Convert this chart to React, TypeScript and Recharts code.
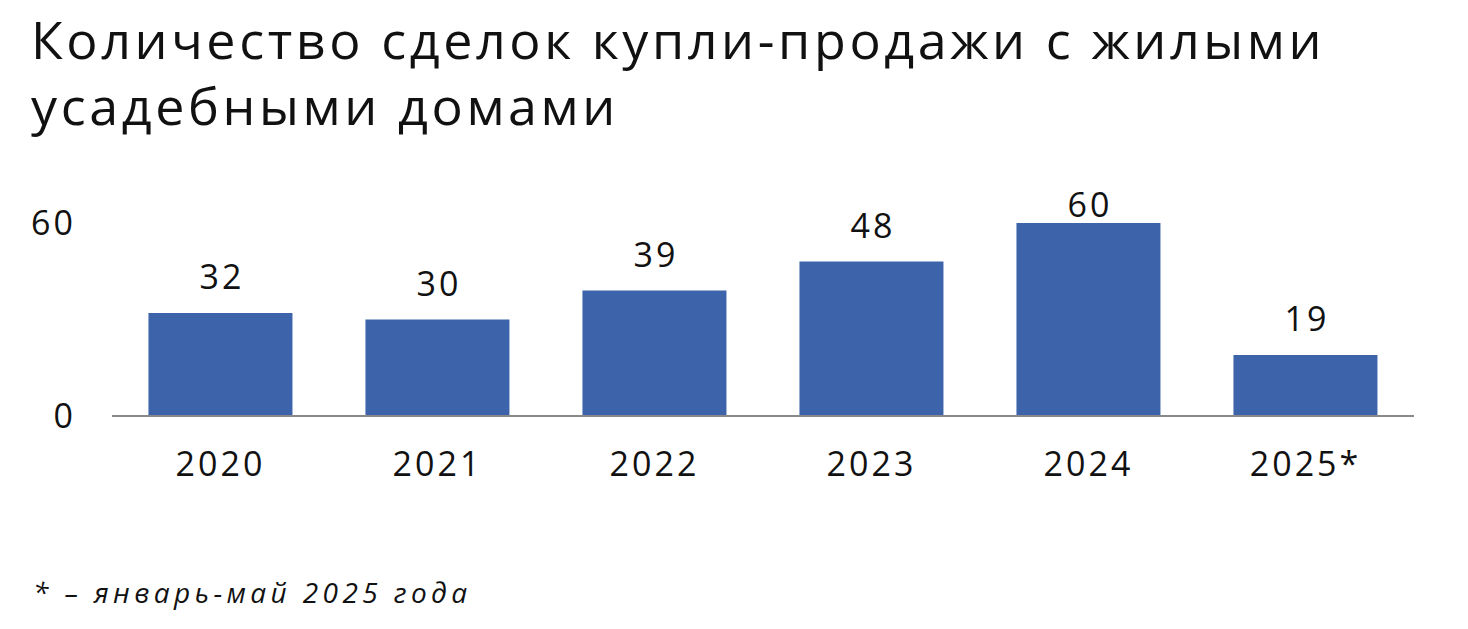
import React from 'react';
import { BarChart, Bar, XAxis, YAxis, LabelList } from 'recharts';

const categories = ['2020', '2021', '2022', '2023', '2024', '2025*'];
const dealCounts = [32, 30, 39, 48, 60, 19];
const yTicks = [0, 60];
const titleLines = ['Количество сделок купли-продажи с жилыми', 'усадебными домами'];
const footnote = '* – январь-май 2025 года';

const data = categories.map((c, i) => ({ year: c, value: dealCounts[i] }));

const FONT = '"Open Sans", sans-serif';

const TopLabel = (props: any) => {
  const { x, y, width, value } = props;
  const baseline = Math.max(y - 24, 217);
  return (
    <text x={x + width / 2 + 1.5} y={baseline} textAnchor="middle" fontFamily={FONT} fontSize={34} letterSpacing={3} fill="#111">
      {value}
    </text>
  );
};

export default function App() {
  return (
    <div style={{ position: 'absolute', left: 0, top: 0, width: 1468, height: 629, background: '#fff' }}>
      <div style={{ position: 'absolute', left: 31, top: 6, fontFamily: FONT, fontSize: 52, lineHeight: '66px', letterSpacing: 3.6, color: '#111', whiteSpace: 'nowrap' }}>
        {titleLines.map((l) => (
          <div key={l}>{l}</div>
        ))}
      </div>
      <div style={{ position: 'absolute', left: 33, top: 573, fontFamily: FONT, fontStyle: 'italic', fontSize: 28, letterSpacing: 4.4, color: '#111', whiteSpace: 'nowrap' }}>
        {footnote}
      </div>
      <div style={{ position: 'absolute', left: 0, top: 0 }}>
        <BarChart width={1468} height={629} data={data} margin={{ top: 223, right: 54, bottom: 183, left: 0 }} barCategoryGap="16.8%">
          <XAxis
            dataKey="year"
            height={30}
            axisLine={{ stroke: '#898989', strokeWidth: 2 }}
            tickLine={false}
            tickSize={0}
            tickMargin={36}
            tick={{ fontFamily: FONT, fontSize: 34, fill: '#111', letterSpacing: 3 }}
            interval={0}
          />
          <YAxis
            width={112}
            domain={[0, 60]}
            ticks={yTicks}
            axisLine={false}
            tickLine={false}
            tickSize={0}
            tickMargin={36}
            tick={{ fontFamily: FONT, fontSize: 34, fill: '#111', letterSpacing: 3 }}
          />
          <Bar dataKey="value" fill="#3D64AB" isAnimationActive={false}>
            <LabelList dataKey="value" content={TopLabel} />
          </Bar>
        </BarChart>
      </div>
    </div>
  );
}
